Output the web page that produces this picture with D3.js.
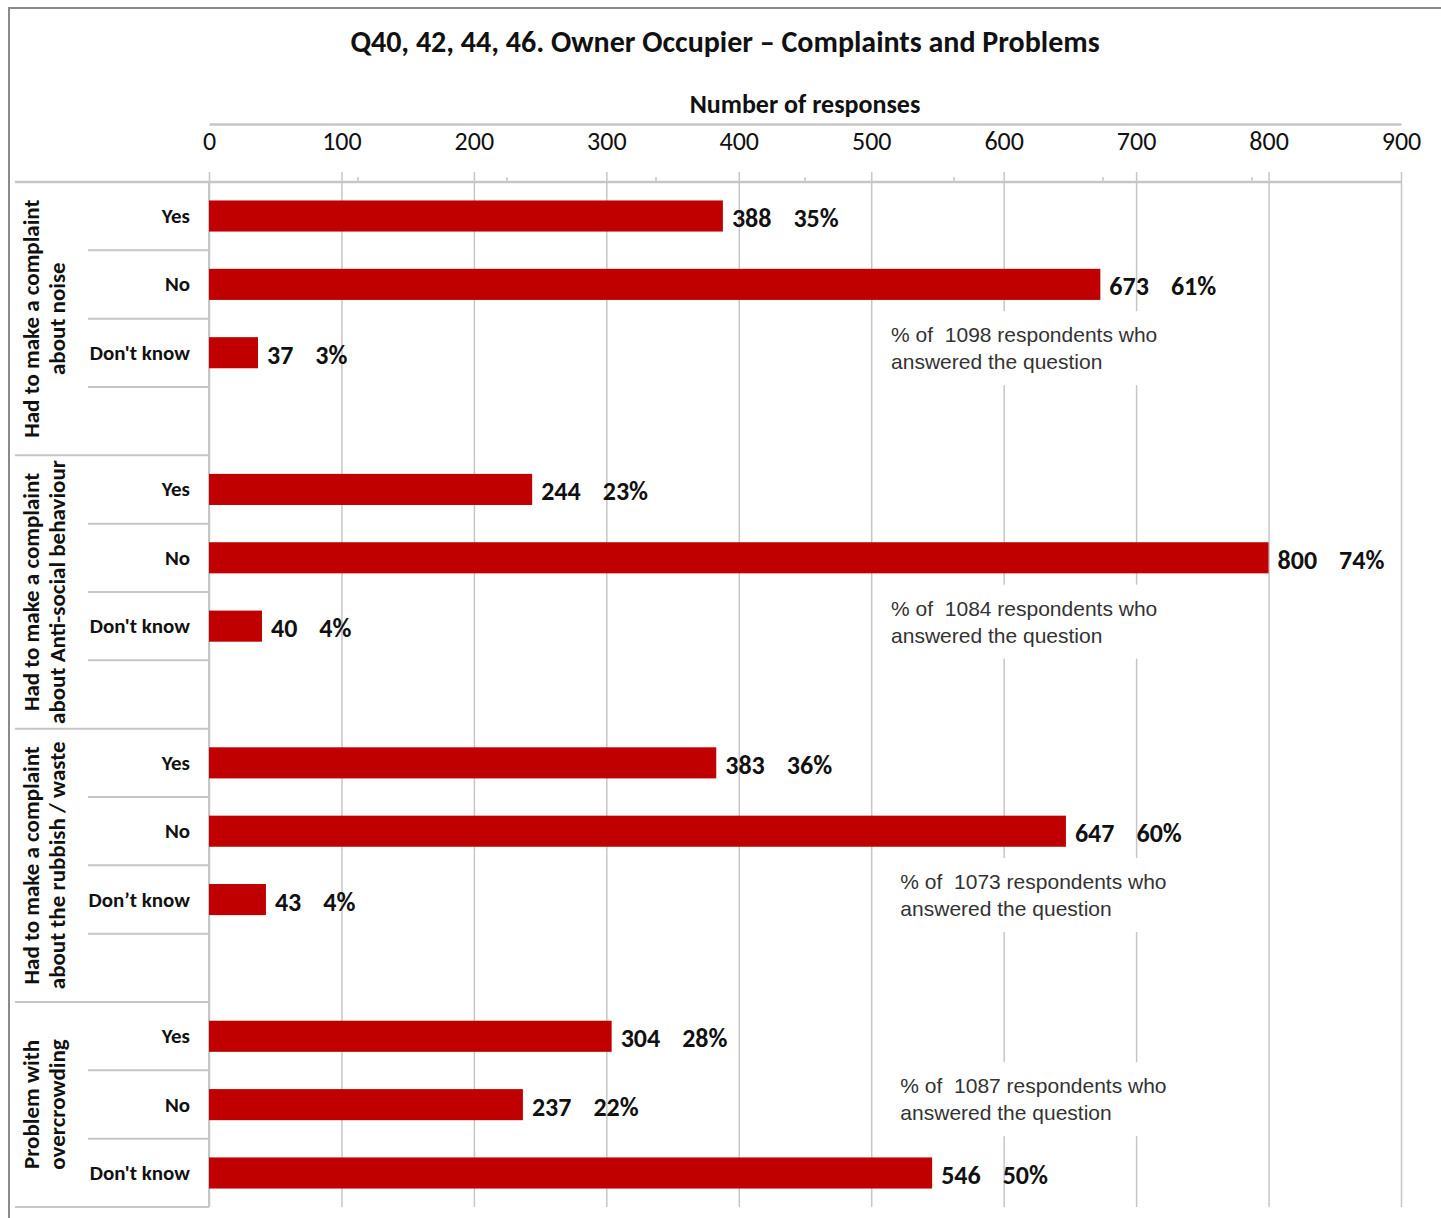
<!DOCTYPE html>
<html>
<head>
<meta charset="utf-8">
<script src="https://cdn.jsdelivr.net/npm/d3@7"></script>
<style>
  body { margin: 0; background: #fff; }
  svg { display: block; }
  text { white-space: pre; }
</style>
</head>
<body>
<script>
// chart values
let groupNames = [
  ["Had to make a complaint", "about noise"],
  ["Had to make a complaint", "about Anti-social behaviour"],
  ["Had to make a complaint", "about the rubbish / waste"],
  ["Problem with", "overcrowding"]
];
let categoryNames = [
  ["Yes", "No", "Don't know"],
  ["Yes", "No", "Don't know"],
  ["Yes", "No", "Don’t know"],
  ["Yes", "No", "Don't know"]
];
let counts = [
  [388, 673, 37],
  [244, 800, 40],
  [383, 647, 43],
  [304, 237, 546]
];
let percents = [
  ["35%", "61%", "3%"],
  ["23%", "74%", "4%"],
  ["36%", "60%", "4%"],
  ["28%", "22%", "50%"]
];
let respondents = [1098, 1084, 1073, 1087];
let xTicks = [0, 100, 200, 300, 400, 500, 600, 700, 800, 900];

let width = 1441, height = 1218;
let calibri = "Carlito, 'Liberation Sans Narrow', 'DejaVu Sans Condensed', sans-serif";
let arial = "'Liberation Sans', Arial, sans-serif";
let red = "#c00000";
let lineGrey = "#c6c6c6";

let svg = d3.select("body").append("svg").attr("width", width).attr("height", height)

// outer border (top and left visible)
svg.append("rect").attr("x", 9).attr("y", 8).attr("width", width).attr("height", height)
    .attr("fill", "none").attr("stroke", "#8a8a8a").attr("stroke-width", 2)

let plotTop = 182, plotBottom = 1207, plotLeft = 209, plotRight = 1401;

let x = d3.scaleLinear().domain([0, 900]).range([plotLeft, plotRight])

// build row slots: each group has its categories plus one blank slot (not the last one)
let slots = [];
groupNames.forEach((g, gi) => {
  categoryNames[gi].forEach((c, ci) => slots.push({g: gi, c: ci, id: gi + "-" + ci}))
  if (gi < groupNames.length - 1) slots.push({g: gi, c: -1, id: gi + "-blank"})
})
let y = d3.scaleBand().domain(slots.map(d => d.id)).range([plotTop, plotBottom]).paddingInner(0.545).paddingOuter(0.27)
let slotH = (plotBottom - plotTop) / slots.length
let slotTop = id => plotTop + slots.findIndex(s => s.id == id) * slotH

// title
svg.append("text").attr("x", 725).attr("y", 52).attr("text-anchor", "middle")
    .attr("font-family", calibri).attr("font-weight", "bold").attr("font-size", 30).attr("fill", "#111")
    .text("Q40, 42, 44, 46. Owner Occupier – Complaints and Problems")

svg.append("text").attr("x", 805).attr("y", 113).attr("text-anchor", "middle")
    .attr("font-family", calibri).attr("font-weight", "bold").attr("font-size", 26).attr("fill", "#111")
    .text("Number of responses")

// axis labels under the top line
let axis = svg.append("g").attr("transform", "translate(0,124)")
    .call(d3.axisBottom(x).tickValues(xTicks).tickSize(0).tickPadding(8).tickSizeOuter(0))
axis.select(".domain").attr("stroke", lineGrey).attr("stroke-width", 2.5)
axis.selectAll("text").attr("font-family", calibri).attr("font-size", 26).attr("fill", "#111")

// vertical gridlines
let grid = svg.append("g").attr("transform", "translate(0,172)")
    .call(d3.axisBottom(x).tickValues(xTicks).tickSize(plotBottom - 172).tickFormat(""))
grid.select(".domain").remove()
grid.selectAll("line").attr("stroke", lineGrey).attr("stroke-width", 1.5)

// secondary minor ticks on the top line
let x2 = d3.scaleLinear().domain([0, 0.8]).range([plotLeft, plotRight])
svg.append("g").selectAll("line").data(d3.range(1, 8).map(d => d / 10)).enter().append("line")
    .attr("x1", d => x2(d)).attr("x2", d => x2(d)).attr("y1", 177).attr("y2", 182)
    .attr("stroke", lineGrey).attr("stroke-width", 1.5)

// horizontal top line
svg.append("line").attr("x1", 15).attr("x2", plotRight).attr("y1", plotTop).attr("y2", plotTop)
    .attr("stroke", lineGrey).attr("stroke-width", 2.5)

// left category separators
let seps = svg.append("g")
slots.forEach((s, i) => {
  let yy = plotTop + (i + 1) * slotH;
  let lastInGroup = (i == slots.length - 1) || slots[i + 1].g != s.g;
  seps.append("line").attr("x1", lastInGroup ? 15 : 88).attr("x2", plotLeft).attr("y1", yy).attr("y2", yy)
      .attr("stroke", lineGrey).attr("stroke-width", 2)
})
seps.append("line").attr("x1", plotLeft).attr("x2", plotLeft).attr("y1", plotTop).attr("y2", plotBottom)
    .attr("stroke", lineGrey).attr("stroke-width", 2)

// group labels (rotated)
groupNames.forEach((g, gi) => {
  let gs = slots.filter(s => s.g == gi);
  let top = slotTop(gs[0].id), bottom = slotTop(gs[gs.length - 1].id) + slotH;
  let cy = (top + bottom) / 2;
  let t = svg.append("text").attr("transform", "translate(39," + cy + ") rotate(-90)")
      .attr("text-anchor", "middle").attr("font-family", calibri).attr("font-weight", "bold")
      .attr("font-size", 23).attr("fill", "#111")
  g.forEach((line, li) => {
    t.append("tspan").attr("x", 0).attr("dy", li == 0 ? 0 : 26).text(line)
  })
})

// category labels
svg.append("g").selectAll("text").data(slots.filter(s => s.c >= 0)).enter().append("text")
    .attr("x", 190).attr("y", d => y(d.id) + y.bandwidth() / 2)
    .attr("text-anchor", "end").attr("dominant-baseline", "central")
    .attr("font-family", calibri).attr("font-weight", "bold").attr("font-size", 21).attr("fill", "#111")
    .text(d => categoryNames[d.g][d.c])

// annotations
let annGroup = svg.append("g")
respondents.forEach((n, gi) => {
  let row = gi < 3 ? 2 : 1;
  let id = gi + "-" + row;
  let ay = y(id) + y.bandwidth() / 2 - (gi < 3 ? 18 : 19);
  let ax = gi < 2 ? x(515) : x(522);
  let t = annGroup.append("text").attr("font-family", arial).attr("font-size", 21).attr("fill", "#333")
  t.append("tspan").attr("x", ax).attr("y", ay).attr("dominant-baseline", "central").text("% of  " + n + " respondents who")
  t.append("tspan").attr("x", ax).attr("y", ay + 27).attr("dominant-baseline", "central").text("answered the question")
  let bb = t.node().getBBox();
  annGroup.insert("rect", "text").attr("x", bb.x - 4).attr("y", bb.y - 12).attr("width", bb.width + 10).attr("height", bb.height + 24)
      .attr("fill", "#fff")
})

// bars
let barData = slots.filter(s => s.c >= 0).map(s => ({id: s.id, v: counts[s.g][s.c], p: percents[s.g][s.c]}))
svg.append("g").selectAll("rect").data(barData).enter().append("rect")
    .attr("x", x(0)).attr("y", d => y(d.id)).attr("width", d => x(d.v) - x(0)).attr("height", y.bandwidth())
    .attr("fill", red)

// value and percent labels
let labels = svg.append("g").selectAll("g").data(barData).enter().append("g")
labels.append("text").attr("class", "val")
    .attr("x", d => x(d.v) + 9).attr("y", d => y(d.id) + y.bandwidth() / 2 + 2)
    .attr("dominant-baseline", "central").attr("font-family", calibri).attr("font-weight", "bold")
    .attr("font-size", 26).attr("fill", "#111").text(d => d.v)
labels.append("text")
    .attr("x", function(d) { return x(d.v) + 9 + this.parentNode.querySelector(".val").getComputedTextLength() + 22 })
    .attr("y", d => y(d.id) + y.bandwidth() / 2 + 2)
    .attr("dominant-baseline", "central").attr("font-family", calibri).attr("font-weight", "bold")
    .attr("font-size", 26).attr("fill", "#111").text(d => d.p)
</script>
</body>
</html>
